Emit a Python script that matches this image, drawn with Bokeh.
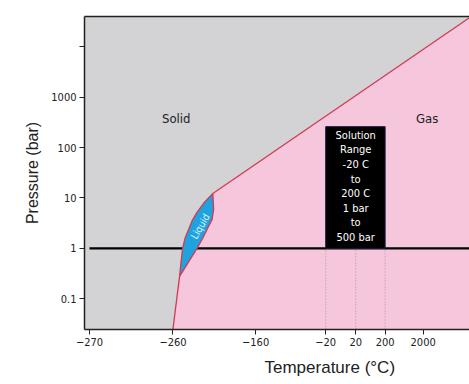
import numpy as np
from bokeh.plotting import figure
from bokeh.models import FixedTicker, LinearAxis, Title, Range1d
from bokeh.core.properties import value
from bokeh.embed import file_html
from bokeh.resources import INLINE

# ---- data ----
tick_temps = [-270, -260, -160, -20, 20, 200, 2000]
tick_labels = ["\u2212270", "\u2212260", "\u2212160", "\u221220", "20", "200", "2000"]
p_ticks = [0.1, 1, 10, 100, 1000, 10000]
p_labels = ["0.1", "1", "10", "100", "1000", ""]

# sublimation curve (solid-gas)
sub_T = [-260.0, -252.0]
sub_P = [0.025, 0.278]
# melting curve (solid-liquid), left edge of liquid region
melt_T = [-252.0, -250.3, -248.4, -245.1, -241.1, -236.6, -230.9, -222.1, -211.8]
melt_P = [0.278, 0.527, 1.0, 1.65, 2.38, 3.6, 5.18, 8.2, 12.3]
# vaporization curve (liquid-gas), right edge of liquid region
vap_T = [-252.0, -241.5, -230.9, -224.5, -218.8, -212.7, -210.8, -211.8]
vap_P = [0.278, 0.527, 1.0, 1.54, 2.38, 3.76, 5.95, 12.3]
# upper solid-gas boundary
upper_T = [-211.8, 6000.0]
upper_P = [12.3, 1.25e5]

range_temps = [-20, 20, 200]
range_P = [1, 260]
box_text = "Solution\nRange\n-20 C\nto\n200 C\n1 bar\nto\n500 bar"

# ---- layout: non-linear temperature axis positions ----
tick_pos = [0.0, 83.4, 166.0, 236.0, 266.0, 295.4, 333.4]


def to_pos(T):
    T = np.atleast_1d(np.asarray(T, dtype=float))
    out = np.interp(T, tick_temps, tick_pos)
    hi = T > tick_temps[-1]
    slope = (tick_pos[-1] - tick_pos[-2]) / (tick_temps[-1] - tick_temps[-2])
    out[hi] = tick_pos[-1] + (T[hi] - tick_temps[-1]) * slope
    return out


GRAY = "#d3d3d5"
PINK = "#f6c6dc"
BLUE = "#1fa3df"
RED = "#d23a52"
NARROW = "'DejaVu Sans Condensed', Roboto, sans-serif"
SANS = "'Liberation Sans', Arial, sans-serif"

p = figure(width=469, height=384, y_axis_type="log",
           x_range=Range1d(-5.0, 379.7), y_range=Range1d(0.0246, 39900),
           output_backend="svg", toolbar_location=None,
           min_border_left=84, min_border_right=0, min_border_top=16, min_border_bottom=55,
           background_fill_color=GRAY, border_fill_color="white")
p.grid.visible = False
p.outline_line_color = None

# gas region
gas_x = np.concatenate([to_pos(sub_T), to_pos(vap_T[1:]), to_pos(upper_T[1:]), to_pos([upper_T[-1]])])
gas_y = np.concatenate([sub_P, vap_P[1:], upper_P[1:], [0.01]])
p.patch(gas_x, gas_y, fill_color=PINK, line_color=None)

# 1 bar line
p.line(to_pos([-400, 8000]), [1, 1], line_color="black", line_width=2.2)

# liquid region
liq_x = np.concatenate([to_pos(melt_T), to_pos(vap_T[::-1])])
liq_y = np.concatenate([melt_P, vap_P[::-1]])
p.patch(liq_x, liq_y, fill_color=BLUE, line_color=None)

# phase boundaries
for T, P in [(sub_T, sub_P), (melt_T, melt_P), (vap_T, vap_P), (upper_T, upper_P)]:
    p.line(to_pos(T), P, line_color=RED, line_width=1.3)

# solution range
for t in range_temps:
    p.line(to_pos([t, t]), [0.0246, range_P[0]], line_color="#a897a4",
           line_width=1, line_dash="1 2")
rx = to_pos([range_temps[0], range_temps[-1]])
p.quad(left=rx[0], right=rx[1], bottom=range_P[0], top=range_P[1],
       fill_color="black", line_color="#1a1a3a", line_width=1)
p.text(x=to_pos([range_temps[1]]), y=[17.0], text=[box_text],
       text_color="white", text_font=value(NARROW), text_font_size="11px",
       text_align="center", text_baseline="middle", text_line_height=1.12)

# region labels
p.text(x=to_pos([-256.0]), y=[380.0], text=["Solid"], text_color="#222222",
       text_font=value(NARROW), text_font_size="13px",
       text_align="center", text_baseline="middle")
p.text(x=to_pos([2190.0]), y=[380.0], text=["Gas"], text_color="#222222",
       text_font=value(NARROW), text_font_size="13px",
       text_align="center", text_baseline="middle")
p.text(x=to_pos([-226.9]), y=[2.73], text=["Liquid"], text_color="#dff0fb",
       text_font=value(NARROW), text_font_size="10px", angle=1.05,
       text_align="center", text_baseline="middle")

# axes
for ax in (p.xaxis[0], p.yaxis[0]):
    ax.axis_line_color = "#222222"
    ax.axis_line_width = 1.5
    ax.major_tick_line_color = "#222222"
    ax.major_tick_out = 5
    ax.major_tick_in = 0
    ax.minor_tick_line_color = None
    ax.major_label_text_font = NARROW
    ax.major_label_text_font_size = "11px"
    ax.major_label_text_color = "#222222"
    ax.major_label_standoff = 3

p.xaxis.ticker = FixedTicker(ticks=tick_pos)
p.xaxis.major_label_overrides = {pos: lab for pos, lab in zip(tick_pos, tick_labels)}
p.yaxis.ticker = FixedTicker(ticks=p_ticks)
p.yaxis.major_label_overrides = {t: lab for t, lab in zip(p_ticks, p_labels)}

p.yaxis.axis_label = "Pressure (bar)"
p.yaxis.axis_label_text_font = SANS
p.yaxis.axis_label_text_font_size = "16px"
p.yaxis.axis_label_text_font_style = "normal"
p.yaxis.axis_label_text_color = "#222222"
p.yaxis.axis_label_standoff = 7

top_axis = LinearAxis(ticker=FixedTicker(ticks=[]), axis_line_color="#222222",
                      axis_line_width=1.5, major_tick_line_color=None,
                      minor_tick_line_color=None, major_label_text_font_size="0px",
                      major_label_standoff=0)
p.add_layout(top_axis, "above")

xt = Title(text="Temperature (\u00b0C)", align="left", offset=180,
           text_font=SANS, text_font_size="17px", text_font_style="normal",
           text_color="#222222", standoff=15)
p.add_layout(xt, "below")

open("out.html", "w").write(file_html(p, INLINE))
